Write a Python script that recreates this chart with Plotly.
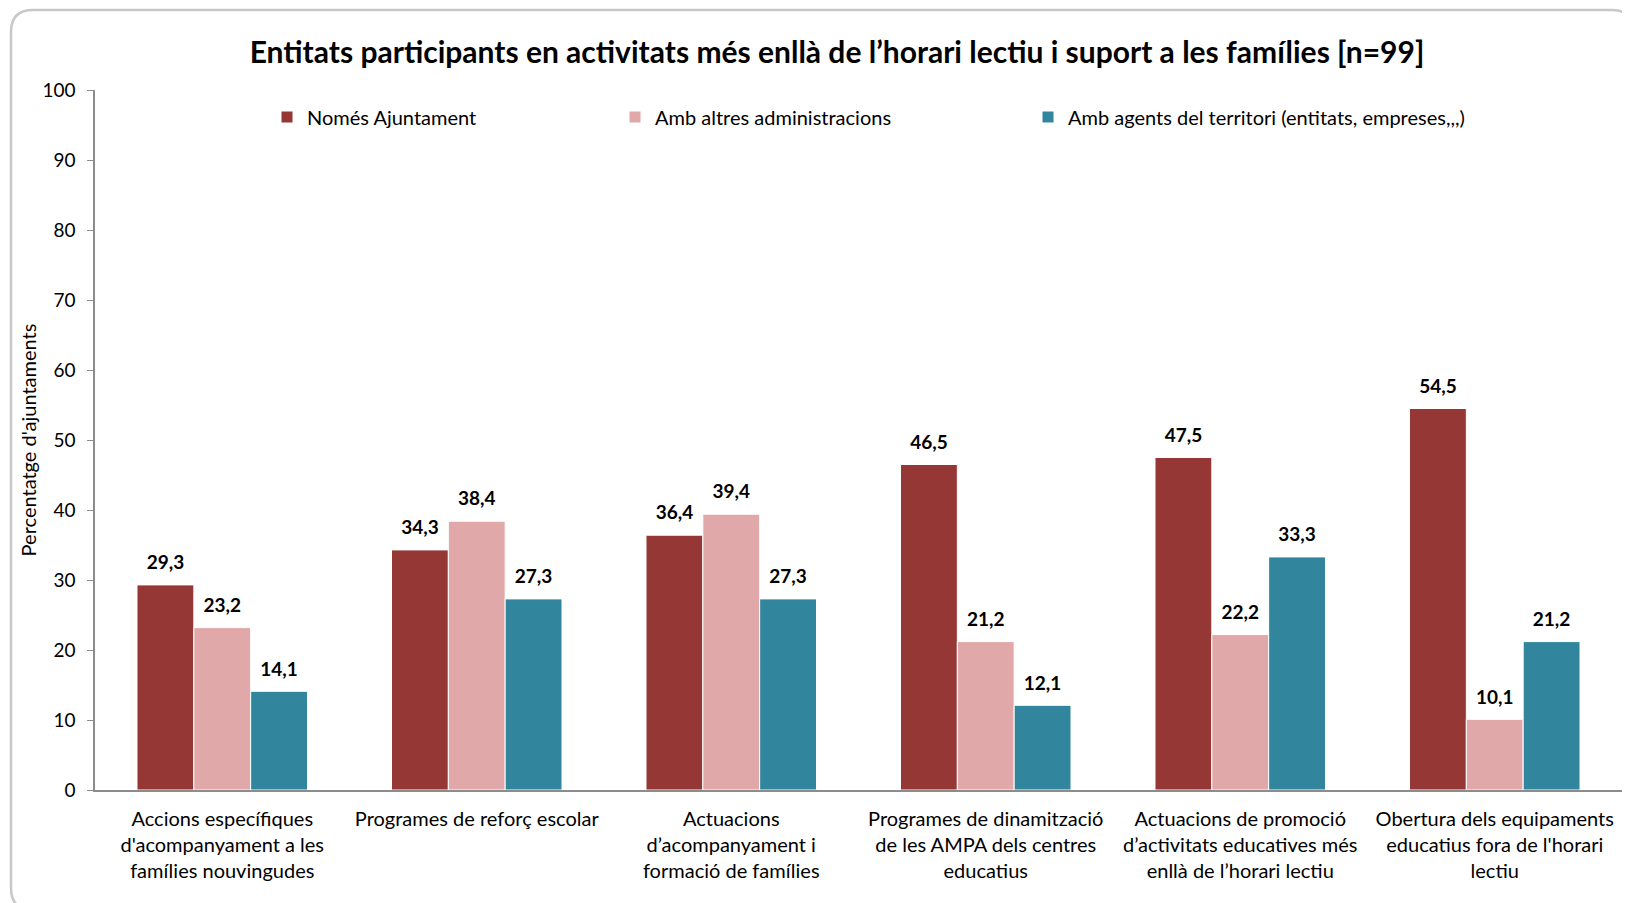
import plotly.graph_objects as go

# Dades
categories = [
    "Accions específiques<br>d'acompanyament a les<br>famílies nouvingudes",
    "Programes de reforç escolar<br> <br> ",
    "Actuacions<br>d’acompanyament i<br>formació de famílies",
    "Programes de dinamització<br>de les AMPA dels centres<br>educatius",
    "Actuacions de promoció<br>d’activitats educatives més<br>enllà de l’horari lectiu",
    "Obertura dels equipaments<br>educatius fora de l'horari<br>lectiu",
]
series_names = ["Només Ajuntament", "Amb altres administracions",
                "Amb agents del territori (entitats, empreses,,,)"]
nomes_ajuntament = [29.3, 34.3, 36.4, 46.5, 47.5, 54.5]
altres_admin = [23.2, 38.4, 39.4, 21.2, 22.2, 10.1]
agents_territori = [14.1, 27.3, 27.3, 12.1, 33.3, 21.2]
y_ticks = [0, 10, 20, 30, 40, 50, 60, 70, 80, 90, 100]

colors = ["#953735", "#E0A8A8", "#31859C"]
FONT = "Lato"

W, H = 1630, 903
OFF = 8  # marge del body de la pàgina
# posicions de l'àrea de dibuix a la pàgina: x 95..1622, y 90..790
L, T = 95 - OFF, 90 - OFF
R, B = W - (1622 - OFF), H - (790 - OFF)
pw, ph = W - L - R, H - T - B
GAP = 0.33


def px_x(x):
    return (x - OFF - L) / pw


def px_y(y):
    return 1 - (y - OFF - T) / ph


fig = go.Figure()
legend_names = ["legend", "legend2", "legend3"]
for i, (name, vals, col, lg) in enumerate(zip(series_names,
                                              [nomes_ajuntament, altres_admin, agents_territori],
                                              colors, legend_names)):
    fig.add_trace(go.Bar(x=categories, y=vals, name=name, legend=lg, showlegend=True,
                         offsetgroup=str(i),
                         marker=dict(color=col, line=dict(color="white", width=1))))
    # etiquetes de dades
    fig.add_trace(go.Scatter(x=categories, y=vals, mode="markers+text", offsetgroup=str(i),
                             text=[f"{v:.1f}".replace(".", ",") for v in vals],
                             textposition="top center", showlegend=False, hoverinfo="skip",
                             marker=dict(size=16, opacity=0), cliponaxis=False,
                             textfont=dict(family=FONT, size=19, color="black", weight="bold")))

fig.update_layout(
    width=W, height=H, barmode="group", bargap=GAP, bargroupgap=0,
    scattermode="group", scattergap=GAP,
    separators=",.", showlegend=True,
    plot_bgcolor="white", paper_bgcolor="white",
    font=dict(family=FONT, size=20, color="black"),
    margin=dict(l=L, r=R, t=T, b=B, autoexpand=False),
    title=dict(text="<b>Entitats participants en activitats més enllà de l’horari lectiu i suport a les famílies [n=99]</b>",
               x=(837 - OFF) / W, xanchor="center", y=1 - (52 - OFF) / H, yanchor="middle",
               font=dict(family=FONT, size=30, color="black")),
)

legend_text_x = [307, 655, 1068]
for lg, lx in zip(legend_names, legend_text_x):
    fig.update_layout({lg: dict(x=px_x(lx - 40), y=px_y(117), xanchor="left", yanchor="middle",
                                orientation="h", bgcolor="rgba(0,0,0,0)",
                                font=dict(family=FONT, size=20, color="black"),
                                itemwidth=30)})

fig.update_yaxes(range=[0, 100], tickvals=y_ticks, showgrid=False, zeroline=False,
                 automargin=False,
                 showline=True, linecolor="#8C8C8C", linewidth=1.5,
                 ticks="outside", ticklen=6, tickcolor="#8C8C8C", ticklabelstandoff=8,
                 tickfont=dict(family=FONT, size=19, color="black"),
                 title=dict(text="Percentatge d'ajuntaments", standoff=0,
                            font=dict(family=FONT, size=20, color="black")))
fig.update_xaxes(showgrid=False, showline=True, linecolor="#8C8C8C", linewidth=1.5,
                 automargin=False, ticks="", ticklabelstandoff=10,
                 tickfont=dict(family=FONT, size=20, color="black"))

# marc arrodonit
x0, x1, y0, y1, r = px_x(11), px_x(1634), px_y(10), px_y(910), 22
rx, ry = r / pw, r / ph
path = (f"M {x0 + rx},{y0} L {x1 - rx},{y0} Q {x1},{y0} {x1},{y0 - ry} "
        f"L {x1},{y1 + ry} Q {x1},{y1} {x1 - rx},{y1} L {x0 + rx},{y1} "
        f"Q {x0},{y1} {x0},{y1 + ry} L {x0},{y0 - ry} Q {x0},{y0} {x0 + rx},{y0} Z")
fig.add_shape(type="path", path=path, xref="paper", yref="paper",
              line=dict(color="#C8C8C8", width=2.5), layer="below")

fig.write_html("out.html")
